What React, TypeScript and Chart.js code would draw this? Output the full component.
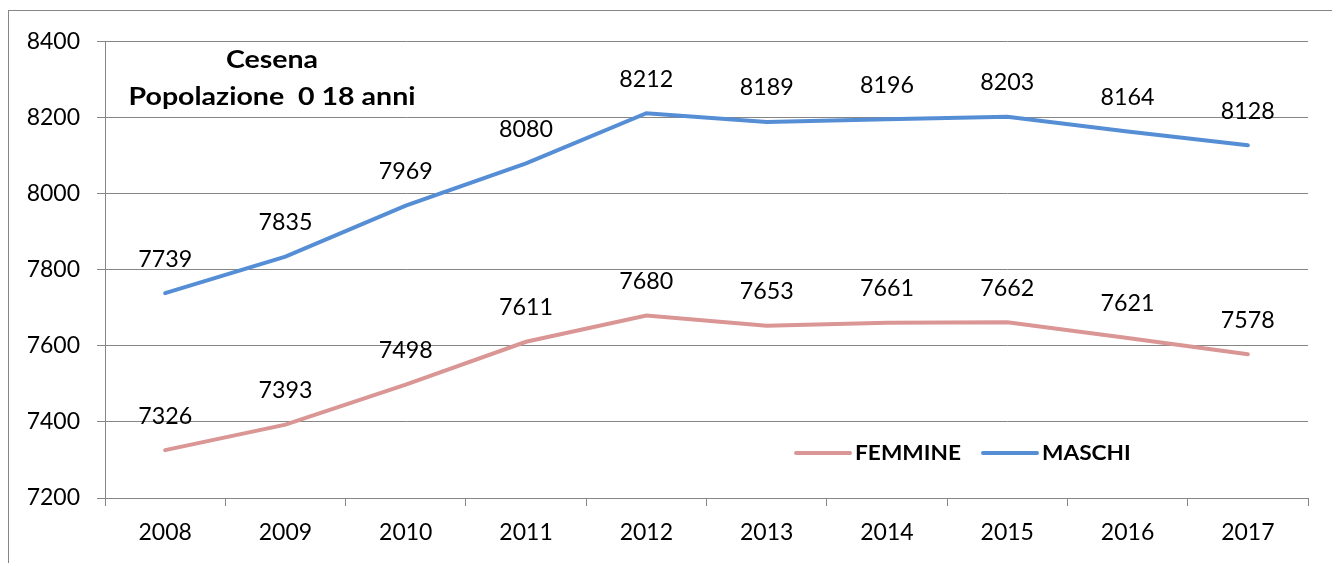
import React, { useEffect, useRef } from "react";
import { Chart, registerables } from "chart.js";
Chart.register(...registerables);

const years = ["2008", "2009", "2010", "2011", "2012", "2013", "2014", "2015", "2016", "2017"];
const femmine = [7326, 7393, 7498, 7611, 7680, 7653, 7661, 7662, 7621, 7578];
const maschi = [7739, 7835, 7969, 8080, 8212, 8189, 8196, 8203, 8164, 8128];
const yMin = 7200;
const yMax = 8400;
const yStep = 200;
const titleLines = ["Cesena", "Popolazione  0 18 anni"];
const seriesNames = ["FEMMINE", "MASCHI"];
const seriesColors = ["#D99694", "#558ED5"];

const FONT = "Lato, 'Open Sans', sans-serif";
const GRID = "#868686";

function stretchedText(ctx: any, text: string, x: number, y: number, targetW: number) {
  const w = ctx.measureText(text).width;
  const sx = targetW / w;
  ctx.save();
  ctx.translate(x, y);
  ctx.scale(sx, 1);
  ctx.fillText(text, 0, 0);
  ctx.restore();
}

const dataLabelPlugin = {
  id: "dataLabels",
  afterDatasetsDraw(chart: any) {
    const ctx = chart.ctx;
    ctx.save();
    ctx.font = `23px ${FONT}`;
    ctx.fillStyle = "#000";
    ctx.textAlign = "center";
    ctx.textBaseline = "middle";
    chart.data.datasets.forEach((ds: any, i: number) => {
      const meta = chart.getDatasetMeta(i);
      meta.data.forEach((pt: any, j: number) => {
        stretchedText(ctx, String(ds.data[j]), pt.x, pt.y - 34, 54);
      });
    });
    ctx.restore();
  },
};

const titlePlugin = {
  id: "innerTitle",
  afterDraw(chart: any) {
    const ctx = chart.ctx;
    ctx.save();
    ctx.font = `bold 24px ${FONT}`;
    ctx.fillStyle = "#000";
    ctx.textAlign = "center";
    ctx.textBaseline = "middle";
    const w0 = ctx.measureText(titleLines[1]).width;
    const sx = 287 / w0;
    stretchedText(ctx, titleLines[0], 263, 49, ctx.measureText(titleLines[0]).width * sx);
    stretchedText(ctx, titleLines[1], 263, 86, 287);
    ctx.restore();
  },
};

const legendPlugin = {
  id: "innerLegend",
  afterDraw(chart: any) {
    const ctx = chart.ctx;
    ctx.save();
    ctx.font = `bold 21px ${FONT}`;
    ctx.textAlign = "left";
    ctx.textBaseline = "middle";
    const y = 442;
    let x = 787;
    chart.data.datasets.forEach((ds: any) => {
      ctx.strokeStyle = ds.borderColor;
      ctx.lineWidth = 4;
      ctx.lineCap = "round";
      ctx.beginPath();
      ctx.moveTo(x, y);
      ctx.lineTo(x + 54, y);
      ctx.stroke();
      ctx.fillStyle = "#000";
      const w = ctx.measureText(ds.label).width * 1.08;
      stretchedText(ctx, ds.label, x + 59, y, w);
      x = x + 59 + w + 22;
    });
    ctx.restore();
  },
};

export default function App() {
  const ref = useRef<HTMLCanvasElement | null>(null);
  useEffect(() => {
    if (!ref.current) return;
    const chart = new Chart(ref.current, {
      type: "line",
      data: {
        labels: years,
        datasets: [
          {
            label: seriesNames[0],
            data: femmine,
            borderColor: seriesColors[0],
            backgroundColor: seriesColors[0],
            borderWidth: 4,
            pointRadius: 0,
            tension: 0,
            borderCapStyle: "round",
          },
          {
            label: seriesNames[1],
            data: maschi,
            borderColor: seriesColors[1],
            backgroundColor: seriesColors[1],
            borderWidth: 4,
            pointRadius: 0,
            tension: 0,
            borderCapStyle: "round",
          },
        ],
      },
      options: {
        animation: false,
        responsive: true,
        maintainAspectRatio: false,
        layout: { padding: { top: 29, right: 26, left: 0, bottom: 0 } },
        plugins: {
          legend: { display: false },
          title: { display: false },
          tooltip: { enabled: false },
        },
        scales: {
          x: {
            offset: true,
            grid: {
              display: true,
              drawOnChartArea: false,
              drawTicks: true,
              tickLength: 8,
              color: GRID,
              offset: true,
            },
            border: { display: true, color: GRID },
            ticks: {
              color: "#000",
              font: { family: FONT, size: 23 },
              padding: 13,
              maxRotation: 0,
            },
            afterFit(scale: any) {
              scale.height = 66;
            },
          },
          y: {
            min: yMin,
            max: yMax,
            grid: { color: GRID, tickLength: 8, drawTicks: true },
            border: { display: true, color: GRID },
            ticks: {
              stepSize: yStep,
              color: "#000",
              font: { family: FONT, size: 23 },
              padding: 17,
              callback: (v: any) => String(v),
            },
            afterFit(scale: any) {
              scale.width = 96;
            },
          },
        },
      },
      plugins: [dataLabelPlugin, titlePlugin, legendPlugin],
    } as any);
    return () => chart.destroy();
  }, []);
  return (
    <div
      style={{
        position: "relative",
        top: 2,
        width: 1325,
        height: 553,
        border: `1px solid ${GRID}`,
      }}
    >
      <canvas ref={ref} />
    </div>
  );
}
